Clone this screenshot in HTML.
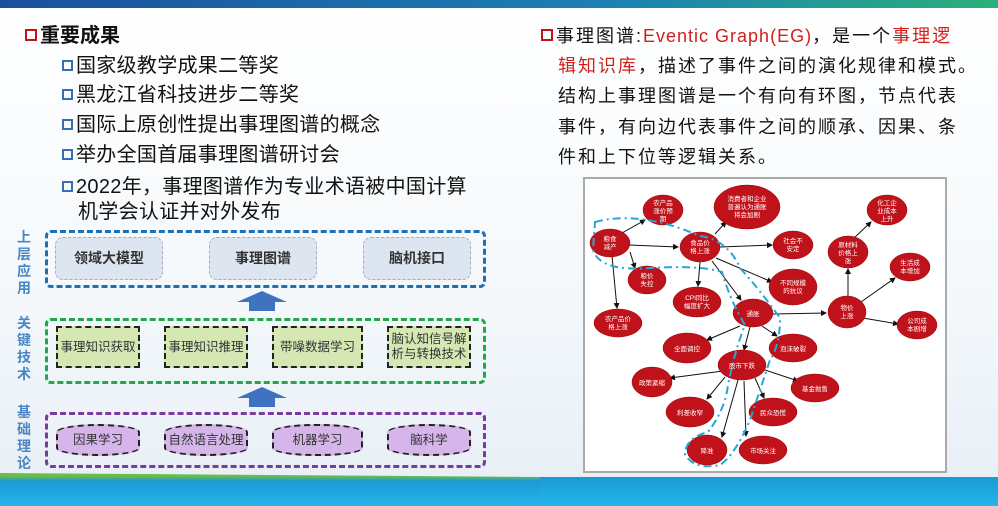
<!DOCTYPE html>
<html><head><meta charset="utf-8"><style>
body{margin:0;width:998px;height:506px;overflow:hidden;background:linear-gradient(180deg,#fff 0%,#f4f8fb 60%,#e6eef5 100%);font-family:"Liberation Sans","Noto Sans CJK SC",sans-serif;position:relative}
.a{position:absolute;white-space:nowrap}
.cb{display:inline-block;width:11px;height:11px;border:2.5px solid #3b6db5;box-sizing:border-box;margin-right:3px;vertical-align:1px}
.li{font-size:20px;color:#111;left:62px;letter-spacing:0.3px}
.rt{font-size:18px;color:#111;left:541px;letter-spacing:2px}
.box{position:absolute;box-sizing:border-box;border-radius:6px}
.in{position:absolute;box-sizing:border-box;display:flex;align-items:center;justify-content:center;text-align:center;font-size:12.5px;color:#333;line-height:15px}
.lab{position:absolute;left:15px;width:18px;font-size:14px;font-weight:bold;color:#4a86c5;line-height:17px;text-align:center}
</style></head><body>
<div style="position:absolute;left:0;top:0;width:998px;height:8px;background:linear-gradient(90deg,#1b4f9a,#1c7fb5 60%,#2bb07a)"></div>
<div style="position:absolute;left:0;top:473px;width:540px;height:33px;background:linear-gradient(180deg,#6dbd45 0,#6dbd45 3px,#1a9ad6 8px,#25b5e6 100%);clip-path:polygon(0 0,100% 12%,100% 100%,0 100%)"></div>
<div style="position:absolute;left:540px;top:477px;width:458px;height:29px;background:linear-gradient(180deg,#1a9ad6,#25b5e6)"></div>

<div class="a" style="left:25px;top:19px;font-size:20px;font-weight:bold;color:#111"><span class="cb" style="border-color:#c0141a;width:12px;height:12px"></span>重要成果</div>
<div class="a li" style="top:49px"><span class="cb"></span>国家级教学成果二等奖</div>
<div class="a li" style="top:78px"><span class="cb"></span>黑龙江省科技进步二等奖</div>
<div class="a li" style="top:108px"><span class="cb"></span>国际上原创性提出事理图谱的概念</div>
<div class="a li" style="top:138px"><span class="cb"></span>举办全国首届事理图谱研讨会</div>
<div class="a li" style="top:170px"><span class="cb"></span>2022年，事理图谱作为专业术语被中国计算</div>
<div class="a li" style="top:195px;left:78px">机学会认证并对外发布</div>

<div class="lab" style="top:229px">上<br>层<br>应<br>用</div>
<div class="lab" style="top:315px">关<br>键<br>技<br>术</div>
<div class="lab" style="top:404px">基<br>础<br>理<br>论</div>

<div class="box" style="left:45px;top:230px;width:441px;height:58px;border:3px dashed #1f6fb5"></div>
<div class="in" style="left:55px;top:237px;width:108px;height:43px;background:#dde6f0;border:1px dashed #aab;border-radius:8px;font-weight:bold;font-size:14px;color:#333">领域大模型</div>
<div class="in" style="left:209px;top:237px;width:108px;height:43px;background:#dde6f0;border:1px dashed #aab;border-radius:8px;font-weight:bold;font-size:14px;color:#333">事理图谱</div>
<div class="in" style="left:363px;top:237px;width:108px;height:43px;background:#dde6f0;border:1px dashed #aab;border-radius:8px;font-weight:bold;font-size:14px;color:#333">脑机接口</div>
<svg class="a" style="left:235px;top:291px" width="54" height="20"><polygon points="27,0 52,11 40,11 40,20 14,20 14,11 2,11" fill="#3f72c0"/></svg>

<div class="box" style="left:45px;top:318px;width:441px;height:66px;border:3px dashed #20a94a"></div>
<div class="in" style="left:56px;top:326px;width:84px;height:42px;background:#d5e8b3;border:2px dashed #222">事理知识获取</div>
<div class="in" style="left:164px;top:326px;width:84px;height:42px;background:#d5e8b3;border:2px dashed #222">事理知识推理</div>
<div class="in" style="left:272px;top:326px;width:91px;height:42px;background:#d5e8b3;border:2px dashed #222">带噪数据学习</div>
<div class="in" style="left:387px;top:326px;width:84px;height:42px;background:#d5e8b3;border:2px dashed #222">脑认知信号解<br>析与转换技术</div>
<svg class="a" style="left:235px;top:387px" width="54" height="20"><polygon points="27,0 52,11 40,11 40,20 14,20 14,11 2,11" fill="#3f72c0"/></svg>

<div class="box" style="left:45px;top:412px;width:441px;height:56px;border:3px dashed #7a3a9e"></div>
<div class="in" style="left:56px;top:424px;width:84px;height:32px;background:#d6b6ea;border:2px dashed #222;border-radius:42px/8px">因果学习</div>
<div class="in" style="left:164px;top:424px;width:84px;height:32px;background:#d6b6ea;border:2px dashed #222;border-radius:42px/8px">自然语言处理</div>
<div class="in" style="left:272px;top:424px;width:91px;height:32px;background:#d6b6ea;border:2px dashed #222;border-radius:42px/8px">机器学习</div>
<div class="in" style="left:387px;top:424px;width:84px;height:32px;background:#d6b6ea;border:2px dashed #222;border-radius:42px/8px">脑科学</div>

<div class="a rt" style="top:22px"><span class="cb" style="border-color:#c0141a;width:12px;height:12px"></span>事理图谱:<span style="color:#d0201c;letter-spacing:1px">Eventic Graph(EG)</span>，是一个<span style="color:#d0201c">事理逻</span></div>
<div class="a rt" style="top:52px;left:558px"><span style="color:#d0201c">辑知识库</span>，描述了事件之间的演化规律和模式。</div>
<div class="a rt" style="top:82px;left:558px">结构上事理图谱是一个有向有环图，节点代表</div>
<div class="a rt" style="top:113px;left:558px">事件，有向边代表事件之间的顺承、因果、条</div>
<div class="a rt" style="top:143px;left:558px">件和上下位等逻辑关系。</div>

<svg class="a" style="left:583px;top:177px" width="364" height="296" viewBox="583 177 364 296">
<defs><marker id="m" markerWidth="6" markerHeight="6" refX="5" refY="3" orient="auto"><path d="M0,0L6,3L0,6z" fill="#111"/></marker></defs>
<rect x="584" y="178" width="362" height="294" fill="#fff" stroke="#aaa" stroke-width="2"/>
<g stroke="#111" stroke-width="1" marker-end="url(#m)" fill="none">
<line x1="622" y1="233" x2="645" y2="220"/><line x1="629" y1="245" x2="678" y2="247"/><line x1="612" y1="256" x2="617" y2="308"/><line x1="630" y1="252" x2="635" y2="268"/>
<line x1="715" y1="234" x2="726" y2="222"/><line x1="720" y1="247" x2="772" y2="245"/><line x1="716" y1="258" x2="772" y2="282"/><line x1="700" y1="262" x2="698" y2="286"/><line x1="712" y1="261" x2="741" y2="300"/>
<line x1="773" y1="314" x2="826" y2="313"/><line x1="848" y1="296" x2="848" y2="269"/><line x1="853" y1="239" x2="871" y2="222"/><line x1="861" y1="302" x2="895" y2="278"/><line x1="863" y1="318" x2="898" y2="324"/>
<line x1="740" y1="326" x2="707" y2="340"/><line x1="762" y1="326" x2="777" y2="336"/><line x1="750" y1="327" x2="744" y2="350"/>
<line x1="723" y1="371" x2="670" y2="378"/><line x1="762" y1="369" x2="798" y2="381"/><line x1="725" y1="377" x2="707" y2="399"/><line x1="755" y1="378" x2="764" y2="398"/><line x1="738" y1="380" x2="722" y2="437"/><line x1="744" y1="381" x2="746" y2="436"/>
</g>
<g fill="#c0121a" stroke="#900" stroke-width="0.5">
<ellipse cx="610" cy="243" rx="20" ry="14"/><ellipse cx="663" cy="210" rx="20" ry="15"/><ellipse cx="747" cy="207" rx="33" ry="22"/><ellipse cx="887" cy="210" rx="20" ry="15"/>
<ellipse cx="700" cy="247" rx="20" ry="15"/><ellipse cx="793" cy="245" rx="20" ry="14"/><ellipse cx="848" cy="252" rx="20" ry="16"/><ellipse cx="910" cy="267" rx="20" ry="14"/>
<ellipse cx="647" cy="280" rx="19" ry="14"/><ellipse cx="697" cy="302" rx="24" ry="15"/><ellipse cx="793" cy="287" rx="24" ry="18"/><ellipse cx="618" cy="323" rx="24" ry="14"/>
<ellipse cx="753" cy="313" rx="20" ry="14"/><ellipse cx="847" cy="312" rx="19" ry="16"/><ellipse cx="917" cy="325" rx="20" ry="14"/>
<ellipse cx="687" cy="348" rx="24" ry="15"/><ellipse cx="793" cy="348" rx="24" ry="14"/><ellipse cx="742" cy="365" rx="24" ry="15"/>
<ellipse cx="652" cy="382" rx="20" ry="15"/><ellipse cx="815" cy="388" rx="24" ry="14"/><ellipse cx="690" cy="412" rx="24" ry="15"/><ellipse cx="773" cy="412" rx="24" ry="14"/>
<ellipse cx="707" cy="450" rx="20" ry="15"/><ellipse cx="763" cy="450" rx="24" ry="14"/>
</g>
<path d="M595,222 Q640,210 700,236 Q728,240 740,268 Q760,290 780,318 Q780,345 770,360 Q760,390 750,420 Q735,455 720,465 Q695,470 685,455 Q685,438 708,432 Q725,410 728,385 Q735,350 745,325 Q730,300 722,272 Q700,265 650,268 Q600,272 593,250 Z" fill="none" stroke="#2aa4d8" stroke-width="2" stroke-dasharray="8,4,2,4"/>
<g fill="#fff" font-size="6.5" text-anchor="middle" font-family="Liberation Sans,Noto Sans CJK SC,sans-serif">
<text x="610" y="241">粮食</text><text x="610" y="249">减产</text>
<text x="663" y="205">农产品</text><text x="663" y="213">涨价预</text><text x="663" y="221">期</text>
<text x="747" y="201">消费者和企业</text><text x="747" y="209">普遍认为通胀</text><text x="747" y="217">将会加剧</text>
<text x="887" y="205">化工企</text><text x="887" y="213">业成本</text><text x="887" y="221">上升</text>
<text x="700" y="245">食品价</text><text x="700" y="253">格上涨</text>
<text x="793" y="243">社会不</text><text x="793" y="251">安定</text>
<text x="848" y="247">原材料</text><text x="848" y="255">价格上</text><text x="848" y="263">涨</text>
<text x="910" y="265">生活成</text><text x="910" y="273">本增加</text>
<text x="647" y="278">粮价</text><text x="647" y="286">失控</text>
<text x="697" y="300">CPI同比</text><text x="697" y="308">幅度扩大</text>
<text x="793" y="285">不同规模</text><text x="793" y="293">的抗议</text>
<text x="618" y="321">农产品价</text><text x="618" y="329">格上涨</text>
<text x="753" y="316">通胀</text>
<text x="847" y="310">物价</text><text x="847" y="318">上涨</text>
<text x="917" y="323">公司成</text><text x="917" y="331">本剧增</text>
<text x="687" y="351">全面调控</text><text x="793" y="351">泡沫破裂</text><text x="742" y="368">股市下跌</text>
<text x="652" y="385">政策紧缩</text><text x="815" y="391">基金抛售</text><text x="690" y="415">利差收窄</text><text x="773" y="415">民众恐慌</text>
<text x="707" y="453">降准</text><text x="763" y="453">市场关注</text>
</g>
</svg>
</body></html>
